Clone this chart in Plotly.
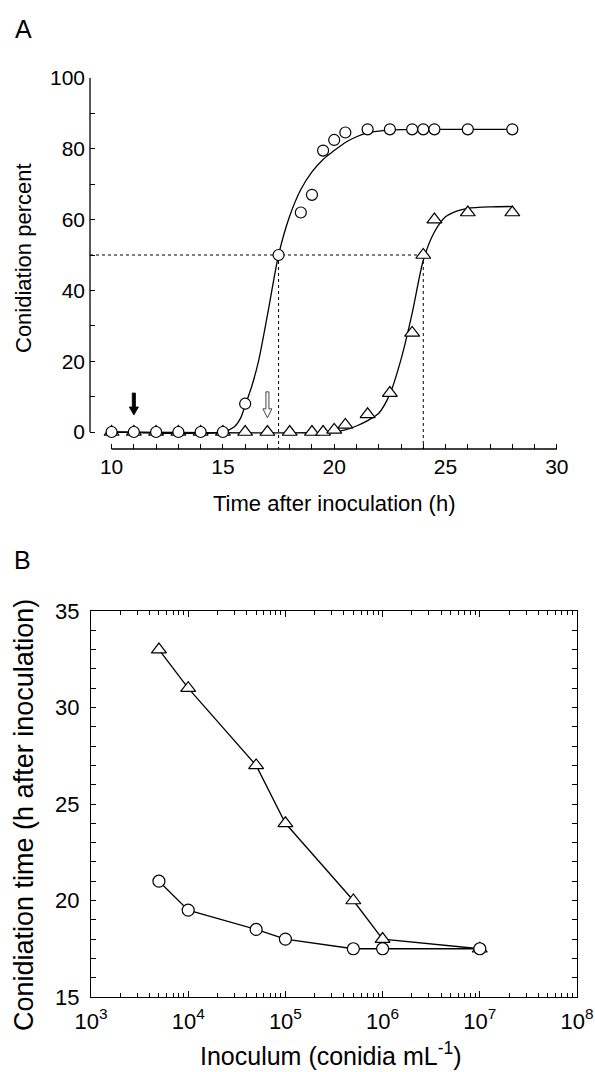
import plotly.graph_objects as go

# ---------------- Panel A data ----------------
circ_time = [10, 11, 12, 13, 14, 15, 16, 17.5, 18.5, 19, 19.5, 20, 20.5, 21.5, 22.5, 23.5, 24, 24.5, 26, 28]
circ_pct = [0, 0, 0, 0, 0, 0, 8, 50, 62, 67, 79.5, 82.5, 84.6, 85.5, 85.5, 85.5, 85.5, 85.5, 85.5, 85.5]

tri_time = [10, 11, 12, 13, 14, 15, 16, 17, 18, 19, 19.5, 20, 20.5, 21.5, 22.5, 23.5, 24, 24.5, 26, 28]
tri_pct = [0, 0, 0, 0, 0, 0, 0, 0, 0, 0, 0, 0.6, 2, 5, 11, 28, 50, 60, 62, 62]

# fitted curves
circ_fit_time = [10, 15, 15.5, 15.8, 16.0, 16.3, 16.6, 17.0, 17.5, 18.0, 18.5, 19.0, 19.5, 20.0, 20.5, 21.0, 21.5, 22.0, 23.0, 24.0, 26.0, 28.0]
circ_fit_pct = [0, 0, 1.4, 4, 7.5, 13, 20, 33, 50, 61, 68.5, 73.5, 77, 79.5, 81.8, 83.4, 84.5, 85.0, 85.4, 85.5, 85.5, 85.5]

tri_fit_time = [10, 20, 20.5, 21.0, 21.5, 22.0, 22.5, 23.0, 23.5, 24.0, 24.5, 25.0, 25.5, 26.0, 27.0, 28.0]
tri_fit_pct = [0, 0, 0.6, 1.7, 3.2, 5.3, 10.7, 20.5, 33.5, 48.5, 56.5, 60.8, 62.4, 63.2, 63.6, 63.7]

t50_time = [17.5, 24]      # time at 50 % conidiation (circle, triangle)
half_level = 50
arrow_time = [11, 17]      # times marked by the black and the open arrow

# ---------------- Panel B data ----------------
inoculum = [5e3, 1e4, 5e4, 1e5, 5e5, 1e6, 1e7]
tri_ctime = [33, 31, 27, 24, 20, 18, 17.5]
circ_ctime = [21, 19.5, 18.5, 18, 17.5, 17.5, 17.5]

xB_ticks = [1e3, 1e4, 1e5, 1e6, 1e7, 1e8]
xB_labels = ["10<sup>3</sup>", "10<sup>4</sup>", "10<sup>5</sup>", "10<sup>6</sup>", "10<sup>7</sup>", "10<sup>8</sup>"]

W, H = 595, 1072
FONT = "Liberation Sans, Arial, Helvetica, sans-serif"
BLK = "black"

fig = go.Figure()

# ---- Panel A ----
fig.add_trace(go.Scatter(x=circ_fit_time, y=circ_fit_pct, mode="lines", line=dict(color=BLK, width=1.3, shape="spline", smoothing=0.7),
                         xaxis="x", yaxis="y", showlegend=False, hoverinfo="skip"))
fig.add_trace(go.Scatter(x=tri_fit_time, y=tri_fit_pct, mode="lines", line=dict(color=BLK, width=1.3, shape="spline", smoothing=0.7),
                         xaxis="x", yaxis="y", showlegend=False, hoverinfo="skip"))
# dotted guide lines
fig.add_trace(go.Scatter(x=[9.03, t50_time[1]], y=[half_level, half_level], mode="lines",
                         line=dict(color=BLK, width=1, dash="dot"), xaxis="x", yaxis="y", showlegend=False, hoverinfo="skip"))
for t in t50_time:
    fig.add_trace(go.Scatter(x=[t, t], y=[half_level, -4.8], mode="lines",
                             line=dict(color=BLK, width=1, dash="dot"), xaxis="x", yaxis="y", showlegend=False, hoverinfo="skip"))
fig.add_trace(go.Scatter(x=tri_time, y=tri_pct, mode="markers", cliponaxis=False,
                         marker=dict(symbol="triangle-up", size=13, color="white", line=dict(color=BLK, width=1.2)),
                         xaxis="x", yaxis="y", showlegend=False))
fig.add_trace(go.Scatter(x=circ_time, y=circ_pct, mode="markers", cliponaxis=False,
                         marker=dict(symbol="circle", size=11, color="white", line=dict(color=BLK, width=1.2)),
                         xaxis="x", yaxis="y", showlegend=False))
# markers under the axis at t50
fig.add_trace(go.Scatter(x=[t50_time[0]], y=[-6.8], mode="markers", cliponaxis=False,
                         marker=dict(symbol="triangle-up", size=10, color=BLK, line=dict(color=BLK, width=1)),
                         xaxis="x", yaxis="y", showlegend=False))
fig.add_trace(go.Scatter(x=[t50_time[1]], y=[-6.5], mode="markers", cliponaxis=False,
                         marker=dict(symbol="triangle-up", size=8, color="white", line=dict(color=BLK, width=1)),
                         xaxis="x", yaxis="y", showlegend=False))

# ---- Panel B ----
fig.add_trace(go.Scatter(x=inoculum, y=tri_ctime, mode="lines+markers", cliponaxis=False,
                         line=dict(color=BLK, width=1.3),
                         marker=dict(symbol="triangle-up", size=13, color="white", line=dict(color=BLK, width=1.2)),
                         xaxis="x2", yaxis="y2", showlegend=False))
fig.add_trace(go.Scatter(x=inoculum, y=circ_ctime, mode="lines+markers", cliponaxis=False,
                         line=dict(color=BLK, width=1.3),
                         marker=dict(symbol="circle", size=12, color="white", line=dict(color=BLK, width=1.2)),
                         xaxis="x2", yaxis="y2", showlegend=False))

yA0 = (H - 449) / H
yA1 = (H - 78) / H
yB0 = (H - 997) / H
yB1 = (H - 611) / H

fig.update_layout(
    width=W, height=H, autosize=False,
    margin=dict(l=0, r=0, t=0, b=0, pad=0),
    paper_bgcolor="white", plot_bgcolor="white",
    font=dict(family=FONT, color=BLK),
    xaxis=dict(domain=[90 / W, 578 / W], range=[9.03, 30.95], anchor="y", automargin=False,
               tickvals=[10, 15, 20, 25, 30], ticks="inside", ticklen=5, tickwidth=1.2, tickcolor=BLK,
               minor=dict(dtick=1, tick0=10, ticks="inside", ticklen=5, tickwidth=1.2, tickcolor=BLK, showgrid=False),
               showline=False, showgrid=False, zeroline=False, tickfont=dict(size=21), ticklabelstandoff=3),
    yaxis=dict(domain=[yA0, yA1], range=[-4.8, 100], anchor="x", automargin=False,
               tickvals=[0, 20, 40, 60, 80, 100], ticks="inside", ticklen=5, tickwidth=1.2, tickcolor=BLK,
               minor=dict(dtick=10, tick0=0, ticks="inside", ticklen=5, tickwidth=1.2, tickcolor=BLK, showgrid=False),
               showline=False, showgrid=False, zeroline=False, tickfont=dict(size=21), ticklabelstandoff=4),
    xaxis2=dict(domain=[91 / W, 577 / W], type="log", range=[3, 8], anchor="y2", automargin=False,
                tickvals=xB_ticks, ticktext=xB_labels, ticks="inside", ticklen=6, tickwidth=1.2, tickcolor=BLK,
                minor=dict(tickvals=[m * 10 ** e for e in range(3, 8) for m in range(2, 10)],
                           ticks="inside", ticklen=4, tickwidth=1, tickcolor=BLK, showgrid=False),
                showline=True, linecolor=BLK, linewidth=1.3, mirror="allticks",
                showgrid=False, zeroline=False, tickfont=dict(size=22), ticklabelstandoff=4),
    yaxis2=dict(domain=[yB0, yB1], range=[15, 35], anchor="x2", automargin=False,
                tickvals=[15, 20, 25, 30, 35], ticks="inside", ticklen=5, tickwidth=1.2, tickcolor=BLK,
                minor=dict(dtick=1, tick0=15, ticks="inside", ticklen=5, tickwidth=1, tickcolor=BLK, showgrid=False),
                showline=True, linecolor=BLK, linewidth=1.3, mirror="allticks",
                showgrid=False, zeroline=False, tickfont=dict(size=22), ticklabelstandoff=6),
)

# axis lines of panel A (detached style)
fig.add_shape(type="line", xref="x domain", yref="y", x0=0, x1=0, y0=0, y1=100, line=dict(color=BLK, width=1.3))
fig.add_shape(type="line", xref="x", yref="y domain", x0=10, x1=30, y0=0, y1=0, line=dict(color=BLK, width=1.3))

# arrows in panel A (pixel-sized paths anchored at data positions; tip at anchor)
arrow_path = "M -1.6 22 L 1.6 22 L 1.6 8 L 4.6 8 L 0 0 L -4.6 8 L -1.6 8 Z"
fig.add_shape(type="path", xref="x", yref="y", xsizemode="pixel", ysizemode="pixel",
              xanchor=arrow_time[0], yanchor=4.8, path=arrow_path,
              fillcolor=BLK, line=dict(color=BLK, width=0.8))
open_arrow_path = "M -1.5 26 L 1.5 26 L 1.5 9 L 4.5 9 L 0 0 L -4.5 9 L -1.5 9 Z"
fig.add_shape(type="path", xref="x", yref="y", xsizemode="pixel", ysizemode="pixel",
              xanchor=arrow_time[1], yanchor=4.0, path=open_arrow_path,
              fillcolor="white", line=dict(color="#444444", width=1))
fig.add_annotation(x=arrow_time[0], y=-8.4, xref="x", yref="y", text="↑", showarrow=False,
                   font=dict(family="DejaVu Sans", size=15, color=BLK))

# panel labels and titles
def txt(x, y, s, size, angle=0):
    fig.add_annotation(x=x / W, y=1 - y / H, xref="paper", yref="paper", text=s, showarrow=False,
                       textangle=angle, font=dict(size=size, family=FONT, color=BLK), xanchor="center", yanchor="middle")

txt(23, 29, "A", 25)
txt(22, 560, "B", 25)
txt(23, 258, "Conidiation percent", 22, -90)
txt(334, 503, "Time after inoculation (h)", 22)
txt(24, 815, "Conidiation time (h after inoculation)", 27, -90)
txt(331, 1054, "Inoculum (conidia mL<sup>-1</sup>)", 25)

fig.write_html("out.html", config={"displayModeBar": False},
               post_script="document.body.style.margin='0';document.body.style.overflow='hidden';")
